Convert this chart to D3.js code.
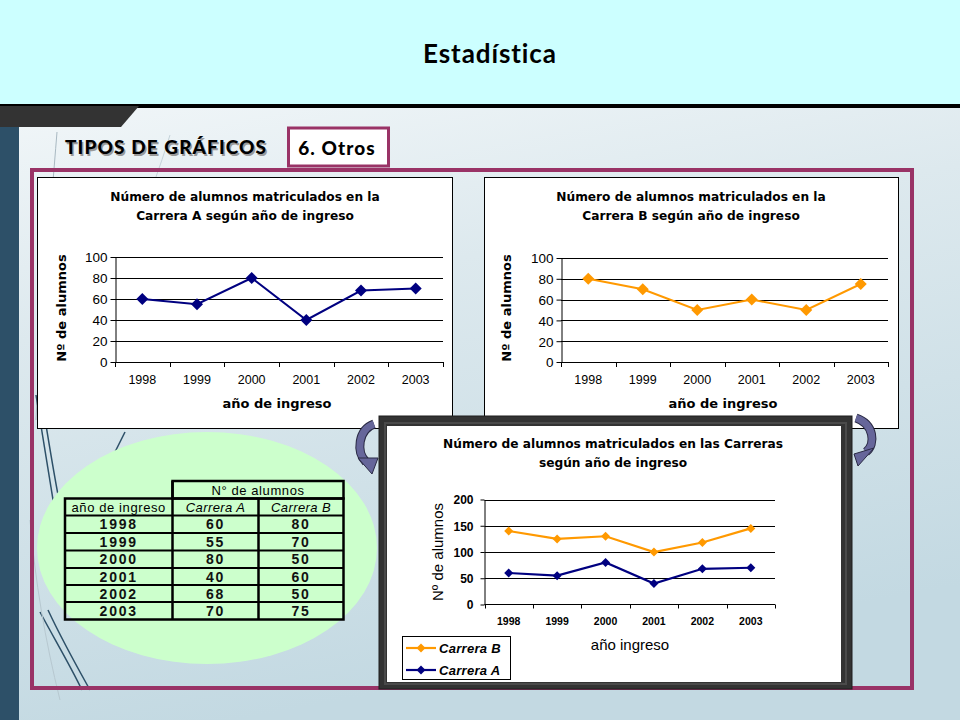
<!DOCTYPE html>
<html><head><meta charset="utf-8">
<script src="https://cdn.jsdelivr.net/npm/d3@7"></script>
<style>
html,body{margin:0;padding:0;background:#fff;}
svg{display:block;}
</style></head>
<body>
<svg id="s" width="960" height="720"></svg>
<script>
// ---------- data ----------
const years = ["1998","1999","2000","2001","2002","2003"];
const carreraA = [60,55,80,40,68,70];
const carreraB = [80,70,50,60,50,75];
const yTicksSingle = [0,20,40,60,80,100];
const yTicksCombined = [0,50,100,150,200];
const seriesNames = ["Carrera A","Carrera B"];
const titleA = ["Número de alumnos matriculados en la","Carrera A según año de ingreso"];
const titleB = ["Número de alumnos matriculados en la","Carrera B según año de ingreso"];
const titleC = ["Número de alumnos matriculados en las Carreras","según año de ingreso"];

const NAVY = "#000080", ORANGE = "#ff9900", PURPLE = "#993366";
const ARIAL = "'Liberation Sans', Arial, sans-serif";
const GOTHIC = "Lato, 'DejaVu Sans', sans-serif";

const svg = d3.select("#s");
const defs = svg.append("defs");
const bg = defs.append("linearGradient").attr("id","bg").attr("x1",0).attr("y1",0).attr("x2",0.25).attr("y2",1);
bg.append("stop").attr("offset","0%").attr("stop-color","#fafcfd");
bg.append("stop").attr("offset","45%").attr("stop-color","#dde9ee");
bg.append("stop").attr("offset","100%").attr("stop-color","#c3d9e2");

// ---------- slide background ----------
svg.append("rect").attr("x",0).attr("y",0).attr("width",960).attr("height",720).attr("fill","url(#bg)");
svg.append("rect").attr("x",0).attr("y",0).attr("width",960).attr("height",105).attr("fill","#ccffff");
svg.append("rect").attr("x",0).attr("y",104).attr("width",960).attr("height",4).attr("fill","#000");
svg.append("polygon").attr("points","0,106 139,106 121,127 0,127").attr("fill","#333333");
svg.append("rect").attr("x",0).attr("y",127).attr("width",19).attr("height",593).attr("fill","#2d5068");

// decorative swoosh lines
const deco = svg.append("g").attr("fill","none");
deco.append("path").attr("d","M57,132 C50,220 40,330 36,420").attr("stroke","#a9b9c2").attr("stroke-width",1);
deco.append("path").attr("d","M170,135 C150,200 120,270 95,330").attr("stroke","#c5d3da").attr("stroke-width",1);
deco.append("path").attr("d","M36,395 C42,430 48,470 55,512").attr("stroke","#2d5068").attr("stroke-width",1.5);
deco.append("path").attr("d","M41,395 C47,430 53,470 60,505").attr("stroke","#2d5068").attr("stroke-width",1.5);
deco.append("path").attr("d","M40,612 C55,640 70,665 82,690").attr("stroke","#2d5068").attr("stroke-width",1.5);
deco.append("path").attr("d","M48,610 C62,640 76,665 90,690").attr("stroke","#2d5068").attr("stroke-width",1.5);
deco.append("path").attr("d","M30,520 C35,580 45,640 60,700").attr("stroke","#b7c8d0").attr("stroke-width",1);
deco.append("path").attr("d","M125,432 C118,446 112,458 106,470").attr("stroke","#2d5068").attr("stroke-width",1.5);

// header title
svg.append("text").attr("x",490).attr("y",63).attr("text-anchor","middle")
  .attr("font-family",GOTHIC).attr("font-weight","bold").attr("font-size",26).attr("letter-spacing",0.9)
  .attr("fill","#000").text("Estadística");

// section labels
svg.append("text").attr("x",66.5).attr("y",155.5).attr("font-family",GOTHIC).attr("font-weight","900")
  .attr("font-size",19).attr("letter-spacing",1.1).attr("fill","#9a9a9a").text("TIPOS DE GRÁFICOS");
svg.append("text").attr("x",65).attr("y",154).attr("font-family",GOTHIC).attr("font-weight","900")
  .attr("font-size",19).attr("letter-spacing",1.1).attr("fill","#000").text("TIPOS DE GRÁFICOS");

// big purple frame
svg.append("rect").attr("x",32).attr("y",170).attr("width",880).attr("height",518)
  .attr("fill","none").attr("stroke",PURPLE).attr("stroke-width",4);
svg.append("rect").attr("x",288.5).attr("y",128).attr("width",100).attr("height",38)
  .attr("fill","#fff").attr("stroke",PURPLE).attr("stroke-width",3);
svg.append("text").attr("x",337).attr("y",155).attr("text-anchor","middle").attr("font-family",GOTHIC)
  .attr("font-weight","900").attr("font-size",19).attr("letter-spacing",1.1).attr("fill","#000").text("6. Otros");

// ---------- helpers ----------
function diamond(g, cx, cy, half, color){
  g.append("path").attr("d",`M${cx},${cy-half}L${cx+half},${cy}L${cx},${cy+half}L${cx-half},${cy}Z`).attr("fill",color);
}

function singleChart(box, plot, values, color, title, titleCx, yTitleX, xTitleCx){
  const g = svg.append("g");
  g.append("rect").attr("x",box[0]+0.5).attr("y",box[1]+0.5).attr("width",box[2]-box[0]).attr("height",box[3]-box[1])
    .attr("fill","#fff").attr("stroke","#000").attr("stroke-width",1);
  const x = d3.scaleBand().domain(years).range([plot.x0, plot.x1]);
  const y = d3.scaleLinear().domain([0,100]).range([plot.y0, plot.y1]);
  // grid
  g.selectAll(".grid").data(yTicksSingle.slice(1)).join("line")
    .attr("x1",plot.x0).attr("x2",plot.x1).attr("y1",d=>Math.round(y(d))+0.5).attr("y2",d=>Math.round(y(d))+0.5)
    .attr("stroke","#000").attr("stroke-width",1);
  // y axis
  const ya = g.append("g").attr("transform",`translate(${plot.x0+0.5},0)`)
    .call(d3.axisLeft(y).tickValues(yTicksSingle).tickSize(5).tickPadding(3).tickSizeOuter(0));
  ya.select(".domain").attr("stroke","#000");
  ya.selectAll("text").attr("font-family",ARIAL).attr("font-size",13.5).attr("fill","#000").attr("dy","0.36em");
  // x axis
  g.append("line").attr("x1",plot.x0).attr("x2",plot.x1).attr("y1",plot.y0+0.5).attr("y2",plot.y0+0.5).attr("stroke","#000");
  const bounds = years.map(d=>x(d)).concat([plot.x1]);
  g.selectAll(".xt").data(bounds).join("line")
    .attr("x1",d=>Math.round(d)+0.5).attr("x2",d=>Math.round(d)+0.5).attr("y1",plot.y0).attr("y2",plot.y0+5).attr("stroke","#000");
  g.selectAll(".xl").data(years).join("text")
    .attr("x",d=>x(d)+x.bandwidth()/2).attr("y",plot.y0+22).attr("text-anchor","middle")
    .attr("font-family",ARIAL).attr("font-size",12.5).attr("fill","#000").text(d=>d);
  // line
  const line = d3.line().x((d,i)=>x(years[i])+x.bandwidth()/2).y(d=>y(d));
  g.append("path").datum(values).attr("d",line).attr("fill","none").attr("stroke",color).attr("stroke-width",2);
  values.forEach((v,i)=>diamond(g, x(years[i])+x.bandwidth()/2, y(v), 6, color));
  // titles
  title.forEach((t,i)=>g.append("text").attr("x",titleCx).attr("y",201+i*19).attr("text-anchor","middle")
    .attr("font-family","'DejaVu Sans', Verdana, sans-serif").attr("font-weight","bold").attr("font-size",12.2).attr("fill","#000").text(t));
  g.append("text").attr("transform",`translate(${yTitleX},308) rotate(-90)`).attr("text-anchor","middle")
    .attr("font-family","'DejaVu Sans', Verdana, sans-serif").attr("font-weight","bold").attr("font-size",13).attr("fill","#000").text("Nº de alumnos");
  g.append("text").attr("x",xTitleCx).attr("y",408).attr("text-anchor","middle")
    .attr("font-family","'DejaVu Sans', Verdana, sans-serif").attr("font-weight","bold").attr("font-size",13).attr("fill","#000").text("año de ingreso");
}

singleChart([37,177,452,428], {x0:115,x1:443,y0:362,y1:257}, carreraA, NAVY, titleA, 245, 66, 277);
singleChart([484,177,898,428], {x0:561,x1:888,y0:362,y1:258}, carreraB, ORANGE, titleB, 691, 511, 723);

// ---------- green ellipse & table ----------
svg.append("ellipse").attr("cx",207).attr("cy",548).attr("rx",170).attr("ry",116).attr("fill","#ccffcc");

const tbl = svg.append("g");
const colX = [65,172.5,258.5,343.5];
const rowY = [481,498.5,515.5,533,550.5,568,585,602,619.5];
const tableRows = years.map((yv,i)=>[yv, carreraA[i], carreraB[i]]);
tbl.append("rect").attr("x",colX[1]).attr("y",rowY[0]).attr("width",colX[3]-colX[1]).attr("height",rowY[1]-rowY[0])
  .attr("fill","none").attr("stroke","#000").attr("stroke-width",2.5);
tbl.append("rect").attr("x",colX[0]).attr("y",rowY[1]).attr("width",colX[3]-colX[0]).attr("height",rowY[8]-rowY[1])
  .attr("fill","none").attr("stroke","#000").attr("stroke-width",2.5);
for(let r=2;r<8;r++) tbl.append("line").attr("x1",colX[0]).attr("x2",colX[3]).attr("y1",rowY[r]).attr("y2",rowY[r]).attr("stroke","#000").attr("stroke-width",2);
[1,2].forEach(c=>tbl.append("line").attr("x1",colX[c]).attr("x2",colX[c]).attr("y1",rowY[c===1?0:1]).attr("y2",rowY[8]).attr("stroke","#000").attr("stroke-width",2.5));
const cx = c => (colX[c]+colX[c+1])/2;
tbl.append("text").attr("x",(colX[1]+colX[3])/2).attr("y",rowY[0]+13.5).attr("text-anchor","middle")
  .attr("font-family",ARIAL).attr("font-size",13).attr("letter-spacing",0.6).text("N° de alumnos");
tbl.append("text").attr("x",cx(0)).attr("y",rowY[1]+13).attr("text-anchor","middle")
  .attr("font-family",ARIAL).attr("font-size",13).attr("letter-spacing",0.6).text("año de ingreso");
tbl.append("text").attr("x",cx(1)).attr("y",rowY[1]+13).attr("text-anchor","middle")
  .attr("font-family",ARIAL).attr("font-style","italic").attr("font-size",13).attr("letter-spacing",0.4).text(seriesNames[0]);
tbl.append("text").attr("x",cx(2)).attr("y",rowY[1]+13).attr("text-anchor","middle")
  .attr("font-family",ARIAL).attr("font-style","italic").attr("font-size",13).attr("letter-spacing",0.4).text(seriesNames[1]);
tableRows.forEach((row,r)=>row.forEach((v,c)=>{
  tbl.append("text").attr("x",cx(c)).attr("y",rowY[r+2]+13.5).attr("text-anchor","middle")
    .attr("font-family",ARIAL).attr("font-weight","bold").attr("font-size",14).attr("letter-spacing",1.8).attr("fill","#111").text(v);
}));

// ---------- curved arrows ----------
function arrow(d, head){
  const g = svg.append("g");
  g.append("path").attr("d",d).attr("fill","none").attr("stroke","#2a2a44").attr("stroke-width",9);
  g.append("path").attr("d",d).attr("fill","none").attr("stroke","#66669a").attr("stroke-width",7);
  g.append("polygon").attr("points",head).attr("fill","#66669a").attr("stroke","#2a2a44").attr("stroke-width",1);
}
arrow("M374,424 C358,430 356,452 366,462", "358,458 378,458 372,474");
arrow("M856,418 C874,424 876,444 866,452", "874,448 854,454 858,466");

// ---------- combined (stacked) chart ----------
const cg = svg.append("g");
cg.append("rect").attr("x",379).attr("y",416).attr("width",473).attr("height",273).attr("fill","#333333").attr("stroke","#1e1e1e");
cg.append("rect").attr("x",385).attr("y",423).attr("width",461).attr("height",261).attr("fill","none").attr("stroke","#4a4a4a").attr("stroke-width",2);
cg.append("rect").attr("x",387).attr("y",426).attr("width",454).attr("height",256).attr("fill","#fff");

const table = years.map((yv,i)=>({year:yv, "Carrera A":carreraA[i], "Carrera B":carreraB[i]}));
const stacked = d3.stack().keys(seriesNames)(table);
const px0=484.5, px1=775, py0=604.5, py1=499.5;
const xc = d3.scaleBand().domain(years).range([px0,px1]);
const yc = d3.scaleLinear().domain([0,200]).range([py0,py1]);
cg.selectAll(".g").data(yTicksCombined.slice(1)).join("line")
  .attr("x1",px0).attr("x2",px1).attr("y1",d=>Math.round(yc(d))+0.5).attr("y2",d=>Math.round(yc(d))+0.5).attr("stroke","#000");
const yca = cg.append("g").attr("transform",`translate(${px0},0)`)
  .call(d3.axisLeft(yc).tickValues(yTicksCombined).tickSize(4).tickPadding(7).tickSizeOuter(0));
yca.select(".domain").attr("stroke","#000");
yca.selectAll("text").attr("font-family",ARIAL).attr("font-weight","bold").attr("font-size",12).attr("fill","#000").attr("dy","0.36em");
cg.append("line").attr("x1",px0).attr("x2",px1).attr("y1",py0).attr("y2",py0).attr("stroke","#000");
cg.selectAll(".xt").data(years.map(d=>xc(d)).concat([px1])).join("line")
  .attr("x1",d=>Math.round(d)+0.5).attr("x2",d=>Math.round(d)+0.5).attr("y1",py0).attr("y2",py0+4).attr("stroke","#000");
cg.selectAll(".xl").data(years).join("text")
  .attr("x",d=>xc(d)+xc.bandwidth()/2).attr("y",py0+20).attr("text-anchor","middle")
  .attr("font-family",ARIAL).attr("font-weight","bold").attr("font-size",10.5).attr("fill","#000").text(d=>d);
const colors = {"Carrera A":NAVY, "Carrera B":ORANGE};
stacked.forEach(s=>{
  const ln = d3.line().x(d=>xc(d.data.year)+xc.bandwidth()/2).y(d=>yc(d[1]));
  cg.append("path").datum(s).attr("d",ln).attr("fill","none").attr("stroke",colors[s.key]).attr("stroke-width",2.2);
  s.forEach(d=>diamond(cg, xc(d.data.year)+xc.bandwidth()/2, yc(d[1]), 4.5, colors[s.key]));
});
titleC.forEach((t,i)=>cg.append("text").attr("x",613).attr("y",448+i*18.5).attr("text-anchor","middle")
  .attr("font-family","'DejaVu Sans', Verdana, sans-serif").attr("font-weight","bold").attr("font-size",12.2).attr("fill","#000").text(t));
cg.append("text").attr("transform","translate(443,552) rotate(-90)").attr("text-anchor","middle")
  .attr("font-family",ARIAL).attr("font-size",15).attr("fill","#000").text("Nº de alumnos");
cg.append("text").attr("x",630).attr("y",650).attr("text-anchor","middle")
  .attr("font-family",ARIAL).attr("font-size",15).attr("fill","#000").text("año ingreso");
// legend
const lg = cg.append("g");
lg.append("rect").attr("x",402.5).attr("y",636.5).attr("width",108).attr("height",43).attr("fill","#fff").attr("stroke","#000");
["Carrera B","Carrera A"].forEach((k,i)=>{
  const yy = 648 + i*22;
  lg.append("line").attr("x1",406).attr("x2",436).attr("y1",yy).attr("y2",yy).attr("stroke",colors[k]).attr("stroke-width",2.2);
  diamond(lg, 421, yy, 4.5, colors[k]);
  lg.append("text").attr("x",439).attr("y",yy+4.5).attr("font-family",ARIAL).attr("font-weight","bold").attr("font-style","italic")
    .attr("font-size",13).attr("letter-spacing",0.3).attr("fill","#000").text(k);
});
</script>
</body></html>
